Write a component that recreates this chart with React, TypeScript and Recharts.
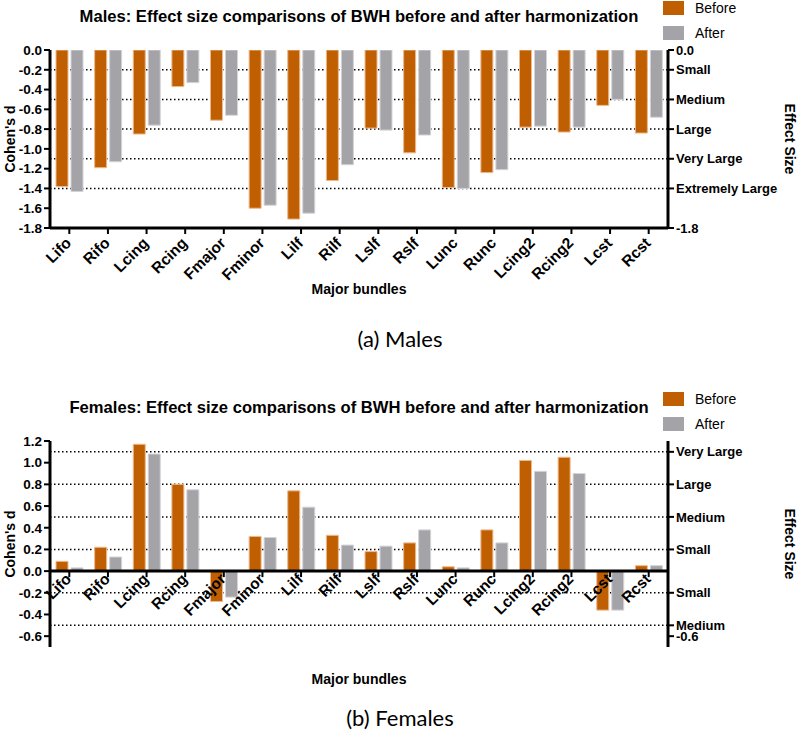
import React from 'react';
import {
  BarChart,
  Bar,
  XAxis,
  YAxis,
  CartesianGrid,
  ReferenceLine,
} from 'recharts';

// bundles shared by both panels
const BUNDLES = [
  'Lifo', 'Rifo', 'Lcing', 'Rcing', 'Fmajor', 'Fminor', 'Lilf', 'Rilf',
  'Lslf', 'Rslf', 'Lunc', 'Runc', 'Lcing2', 'Rcing2', 'Lcst', 'Rcst',
];

const MALE_BEFORE = [-1.38, -1.19, -0.85, -0.37, -0.71, -1.6, -1.71, -1.32, -0.79, -1.04, -1.39, -1.24, -0.78, -0.83, -0.56, -0.84];
const MALE_AFTER = [-1.43, -1.13, -0.76, -0.33, -0.66, -1.57, -1.65, -1.16, -0.81, -0.86, -1.4, -1.21, -0.77, -0.78, -0.5, -0.68];

const FEMALE_BEFORE = [0.09, 0.22, 1.17, 0.8, -0.28, 0.32, 0.74, 0.33, 0.18, 0.26, 0.04, 0.38, 1.02, 1.05, -0.36, 0.05];
const FEMALE_AFTER = [0.03, 0.13, 1.08, 0.75, -0.24, 0.31, 0.59, 0.24, 0.23, 0.38, 0.03, 0.26, 0.92, 0.9, -0.36, 0.05];

// axis ticks and effect size thresholds
const MALE_TICKS = [0, -0.2, -0.4, -0.6, -0.8, -1.0, -1.2, -1.4, -1.6, -1.8];
const MALE_EFFECT_TICKS = [0, -0.2, -0.5, -0.8, -1.1, -1.4, -1.8];
const MALE_EFFECT_LABELS = ['0.0', 'Small', 'Medium', 'Large', 'Very Large', 'Extremely Large', '-1.8'];
const MALE_GRID = [-0.2, -0.5, -0.8, -1.1, -1.4];

const FEMALE_TICKS = [1.2, 1.0, 0.8, 0.6, 0.4, 0.2, 0, -0.2, -0.4, -0.6];
const FEMALE_EFFECT_TICKS = [1.1, 0.8, 0.5, 0.2, -0.2, -0.5, -0.6];
const FEMALE_EFFECT_LABELS = ['Very Large', 'Large', 'Medium', 'Small', 'Small', 'Medium', '-0.6'];
const FEMALE_GRID = [1.1, 0.8, 0.5, 0.2, -0.2, -0.5];

const ORANGE = '#c05f02';
const GRAY = '#a3a3a8';
const FONT = '"Liberation Sans", Arial, sans-serif';

const maleData = BUNDLES.map((b, i) => ({ bundle: b, before: MALE_BEFORE[i], after: MALE_AFTER[i] }));
const femaleData = BUNDLES.map((b, i) => ({ bundle: b, before: FEMALE_BEFORE[i], after: FEMALE_AFTER[i] }));

const PLOT_LEFT = 50;
const PLOT_RIGHT = 668;
const W = 800;

function BundleTick(props: any) {
  const { x, payload, axisY, marks } = props;
  const px = x + 3;
  const py = axisY + (marks ? 9 : 16);
  return (
    <g>
      {marks && <line x1={x} x2={x} y1={axisY} y2={axisY + 6} stroke="#000" strokeWidth={2} />}
      <text
        x={px}
        y={py}
        transform={`rotate(-45 ${px} ${py})`}
        textAnchor="end"
        fontFamily={FONT}
        fontWeight="bold"
        fontSize={15.5}
        fill="#000"
      >
        {payload.value}
      </text>
    </g>
  );
}

interface PanelProps {
  top: number;
  height: number;
  plotTop: number;
  plotBottom: number;
  title: string;
  data: { bundle: string; before: number; after: number }[];
  domain: [number, number];
  ticks: number[];
  effectTicks: number[];
  effectLabels: string[];
  grid: number[];
  zeroAxis: boolean;
}

function Panel(p: PanelProps) {
  const plotH = p.plotBottom - p.plotTop;
  const zeroY = p.plotTop + (plotH * p.domain[1]) / (p.domain[1] - p.domain[0]);
  const axisY = p.zeroAxis ? zeroY : p.plotBottom;
  const midY = p.top + (p.plotTop + p.plotBottom) / 2;
  const axisStyle = { stroke: '#000', strokeWidth: 3 };
  const tickLine = { stroke: '#000', strokeWidth: 2 };
  const tickText = { fontFamily: FONT, fontWeight: 'bold', fontSize: 13.5, fill: '#000' };

  return (
    <>
      <div
        style={{
          position: 'absolute', left: PLOT_LEFT, width: PLOT_RIGHT - PLOT_LEFT, top: p.top + p.plotTop - 43,
          textAlign: 'center', fontFamily: FONT, fontWeight: 'bold', fontSize: 16.6, lineHeight: '20px',
          whiteSpace: 'nowrap',
        }}
      >
        {p.title}
      </div>
      {[['Before', ORANGE], ['After', GRAY]].map(([name, color], i) => (
        <div key={name} style={{ position: 'absolute', left: 663, top: p.top + p.plotTop - 50 + i * 25, display: 'flex', alignItems: 'center' }}>
          <div style={{ width: 21, height: 14, background: color }} />
          <span style={{ marginLeft: 11, fontFamily: FONT, fontSize: 14 }}>{name}</span>
        </div>
      ))}
      <div style={{ position: 'absolute', left: 0, top: p.top }}>
        <BarChart
          width={W}
          height={p.height}
          data={p.data}
          margin={{ top: p.plotTop, right: 0, left: 0, bottom: 0 }}
          barSize={12}
          barGap={3}
        >
          <CartesianGrid
            horizontal
            vertical={false}
            horizontalValues={p.grid}
            stroke="#000"
            strokeWidth={1.5}
            strokeDasharray="1.5 2.5"
          />
          <XAxis
            dataKey="bundle"
            height={p.height - p.plotBottom}
            interval={0}
            axisLine={p.zeroAxis ? false : axisStyle}
            tickLine={p.zeroAxis ? false : tickLine}
            tickSize={6}
            tick={<BundleTick axisY={axisY} marks={p.zeroAxis} />}
          />
          <YAxis
            width={PLOT_LEFT}
            domain={p.domain}
            ticks={p.ticks}
            interval={0}
            allowDataOverflow
            axisLine={axisStyle}
            tickLine={tickLine}
            tickSize={6}
            tick={tickText}
            tickFormatter={(v: number) => v.toFixed(1)}
          />
          <YAxis
            yAxisId="right"
            orientation="right"
            width={W - PLOT_RIGHT}
            domain={p.domain}
            ticks={p.effectTicks}
            interval={0}
            allowDataOverflow
            axisLine={axisStyle}
            tickLine={tickLine}
            tickSize={6}
            tick={{ ...tickText, fontSize: 13, textAnchor: 'start' }}
            tickFormatter={(v: number) => p.effectLabels[p.effectTicks.indexOf(v)]}
          />
          {p.zeroAxis && <ReferenceLine y={0} stroke="#000" strokeWidth={3} />}
          <Bar dataKey="before" name="Before" fill={ORANGE} stroke="#eeb98c" strokeWidth={1} isAnimationActive={false} />
          <Bar dataKey="after" name="After" fill={GRAY} stroke="#d4d4d8" strokeWidth={1} isAnimationActive={false} />
        </BarChart>
      </div>
      <div
        style={{
          position: 'absolute', left: 10, top: midY, transform: 'translate(-50%, -50%) rotate(-90deg)',
          fontFamily: FONT, fontWeight: 'bold', fontSize: 14, whiteSpace: 'nowrap',
        }}
      >
        Cohen's d
      </div>
      <div
        style={{
          position: 'absolute', left: 790, top: midY, transform: 'translate(-50%, -50%) rotate(90deg)',
          fontFamily: FONT, fontWeight: 'bold', fontSize: 14, whiteSpace: 'nowrap',
        }}
      >
        Effect Size
      </div>
    </>
  );
}

export default function App() {
  return (
    <div style={{ position: 'absolute', left: 0, top: 0, width: W, height: 742, background: '#fff', overflow: 'hidden' }}>
      <Panel
        top={0}
        height={300}
        plotTop={50}
        plotBottom={228}
        title="Males: Effect size comparisons of BWH before and after harmonization"
        data={maleData}
        domain={[-1.8, 0]}
        ticks={MALE_TICKS}
        effectTicks={MALE_EFFECT_TICKS}
        effectLabels={MALE_EFFECT_LABELS}
        grid={MALE_GRID}
        zeroAxis={false}
      />
      <div style={{ position: 'absolute', left: PLOT_LEFT, width: PLOT_RIGHT - PLOT_LEFT, top: 281, textAlign: 'center', fontFamily: FONT, fontWeight: 'bold', fontSize: 14 }}>
        Major bundles
      </div>
      <div style={{ position: 'absolute', left: 0, width: W, top: 325, textAlign: 'center', fontFamily: 'Lato, sans-serif', fontSize: 22 }}>
        (a) Males
      </div>
      <Panel
        top={380}
        height={320}
        plotTop={61}
        plotBottom={267}
        title="Females: Effect size comparisons of BWH before and after harmonization"
        data={femaleData}
        domain={[-0.7, 1.2]}
        ticks={FEMALE_TICKS}
        effectTicks={FEMALE_EFFECT_TICKS}
        effectLabels={FEMALE_EFFECT_LABELS}
        grid={FEMALE_GRID}
        zeroAxis
      />
      <div style={{ position: 'absolute', left: PLOT_LEFT, width: PLOT_RIGHT - PLOT_LEFT, top: 671, textAlign: 'center', fontFamily: FONT, fontWeight: 'bold', fontSize: 14 }}>
        Major bundles
      </div>
      <div style={{ position: 'absolute', left: 0, width: W, top: 704, textAlign: 'center', fontFamily: 'Lato, sans-serif', fontSize: 22 }}>
        (b) Females
      </div>
    </div>
  );
}
